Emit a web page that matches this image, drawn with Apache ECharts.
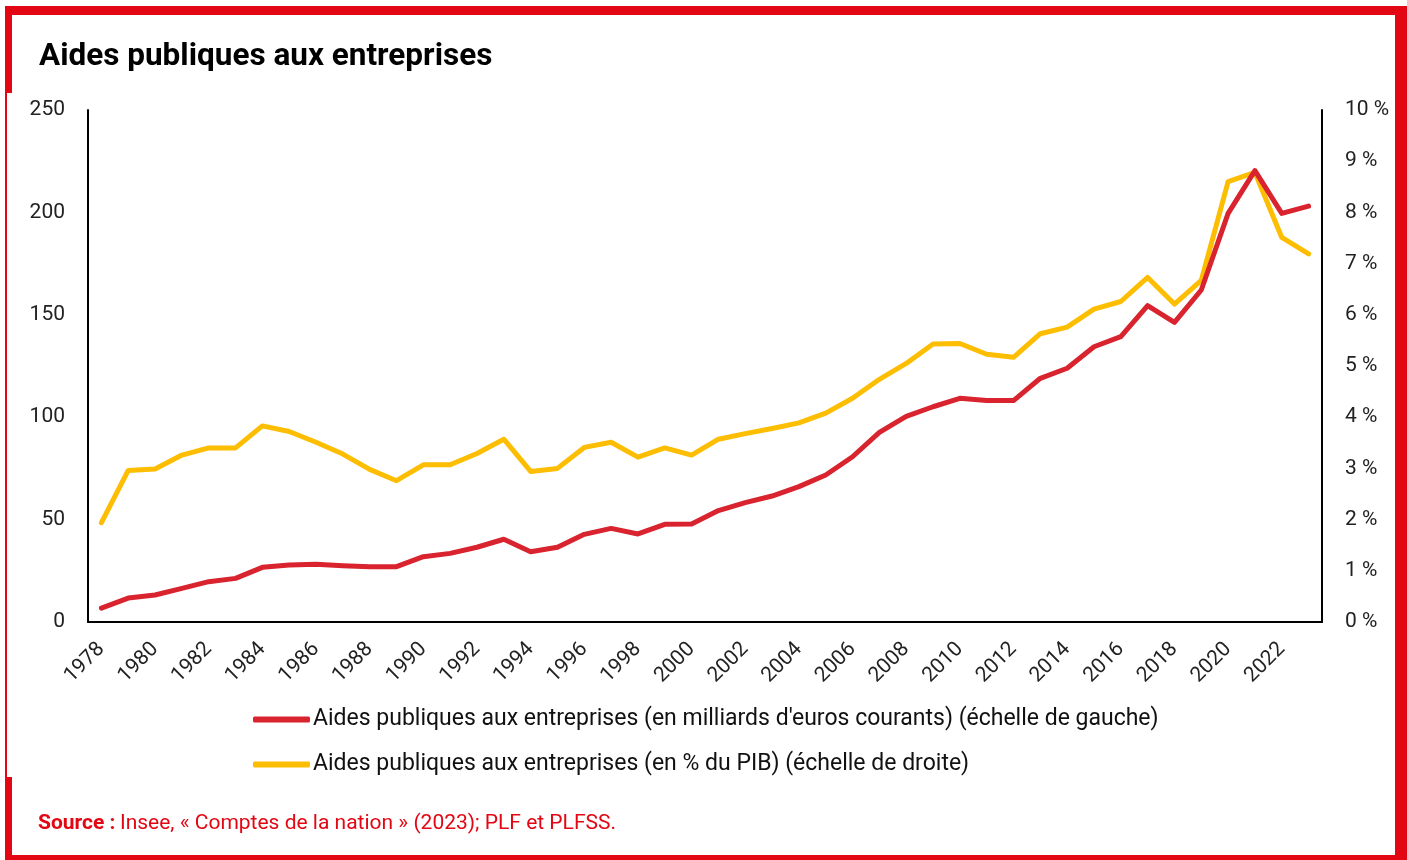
<!DOCTYPE html>
<html>
<head>
<meta charset="utf-8">
<script src="https://cdn.jsdelivr.net/npm/echarts@6/dist/echarts.min.js"></script>
<style>
  body { margin: 0; background: #fff; }
  #frame {
    position: absolute; left: 5px; top: 6px; width: 1402px; height: 854px;
    box-sizing: border-box; border-style: solid; border-color: #e30613;
    border-width: 9px 12px 5px 7px;
  }
  #mask { position: absolute; left: 7px; top: 93px; width: 6px; height: 684px; background: #fff; }
  #chart { position: absolute; left: 0; top: 0; width: 1407px; height: 860px; }
</style>
</head>
<body>
<div id="frame"></div>
<div id="mask"></div>
<div id="chart"></div>
<script>
// années
const years = [];
for (let y = 1978; y <= 2023; y++) years.push(String(y));

// milliards d'euros courants (échelle de gauche)
const milliards = [
  6.8, 11.7, 13.2, 16.4, 19.7, 21.3, 26.7, 27.8, 28.2, 27.5,
  27.0, 27.0, 31.9, 33.5, 36.5, 40.4, 34.3, 36.5, 42.8, 45.7,
  43.0, 47.7, 47.9, 54.4, 58.3, 61.5, 66.1, 71.8, 80.7, 92.6,
  100.4, 105.1, 109.2, 108.1, 108.1, 119.0, 123.9, 134.4, 139.3, 154.5,
  146.3, 162.1, 199.5, 220.4, 199.5, 203.1
];

// en % du PIB (échelle de droite)
const pctPib = [
  1.94, 2.96, 2.99, 3.26, 3.40, 3.40, 3.83, 3.72, 3.51, 3.28,
  2.98, 2.76, 3.07, 3.07, 3.29, 3.57, 2.94, 3.00, 3.41, 3.51,
  3.22, 3.40, 3.26, 3.57, 3.68, 3.78, 3.89, 4.08, 4.37, 4.74,
  5.05, 5.43, 5.44, 5.23, 5.17, 5.63, 5.76, 6.11, 6.26, 6.73,
  6.21, 6.67, 8.60, 8.78, 7.51, 7.19
];

const nomGauche = "Aides publiques aux entreprises (en milliards d'euros courants) (échelle de gauche)";
const nomDroite = "Aides publiques aux entreprises (en % du PIB) (échelle de droite)";

const font = "Roboto";
const chart = echarts.init(document.getElementById("chart"));

chart.setOption({
  textStyle: { fontFamily: font },
  title: [
    {
      text: "Aides publiques aux entreprises",
      left: 34,
      top: 36,
      textStyle: { fontFamily: font, fontSize: 31.5, fontWeight: "bold", color: "#000" },
    },
    {
      text: "{b|Source :} {n|Insee, « Comptes de la nation » (2023); PLF et PLFSS.}",
      left: 33,
      top: 808,
      textStyle: {
        fontWeight: "normal",
        rich: {
          b: { fontFamily: font, fontSize: 21, fontWeight: "bold", color: "#e30613" },
          n: { fontFamily: font, fontSize: 21, fontWeight: "normal", color: "#e30613" },
        },
      },
    },
  ],
  legend: {
    orient: "vertical",
    left: 253,
    top: 708,
    padding: 0,
    itemWidth: 57,
    itemHeight: 6,
    itemGap: 22,
    icon: "roundRect",
    textStyle: { fontFamily: font, fontSize: 23, color: "#111", padding: [0, 0, 0, -2] },
    data: [nomGauche, nomDroite],
  },
  grid: { left: 88, right: 85, top: 110, bottom: 238 },
  xAxis: {
    type: "category",
    data: years,
    boundaryGap: true,
    axisLine: { lineStyle: { color: "#000", width: 2 } },
    axisTick: { show: false },
    axisLabel: { interval: 1, rotate: 45, fontSize: 21, color: "#222", margin: 24 },
  },
  yAxis: [
    {
      type: "value",
      min: 0,
      max: 250,
      interval: 50,
      axisLine: { show: true, lineStyle: { color: "#000", width: 2 } },
      axisTick: { show: false },
      splitLine: { show: false },
      axisLabel: { fontSize: 21, color: "#222", margin: 23 },
    },
    {
      type: "value",
      min: 0,
      max: 10,
      interval: 1,
      position: "right",
      axisLine: { show: true, lineStyle: { color: "#000", width: 2 } },
      axisTick: { show: false },
      splitLine: { show: false },
      axisLabel: { fontSize: 21, color: "#222", margin: 23, formatter: "{value} %" },
    },
  ],
  series: [
    {
      name: nomGauche,
      type: "line",
      yAxisIndex: 0,
      data: milliards,
      symbol: "none",
      color: "#d9232e",
      lineStyle: { width: 5, cap: "round", join: "round" },
      z: 3,
    },
    {
      name: nomDroite,
      type: "line",
      yAxisIndex: 1,
      data: pctPib,
      symbol: "none",
      color: "#fdbd00",
      lineStyle: { width: 5, cap: "round", join: "round" },
      z: 2,
    },
  ],
});
</script>
</body>
</html>
